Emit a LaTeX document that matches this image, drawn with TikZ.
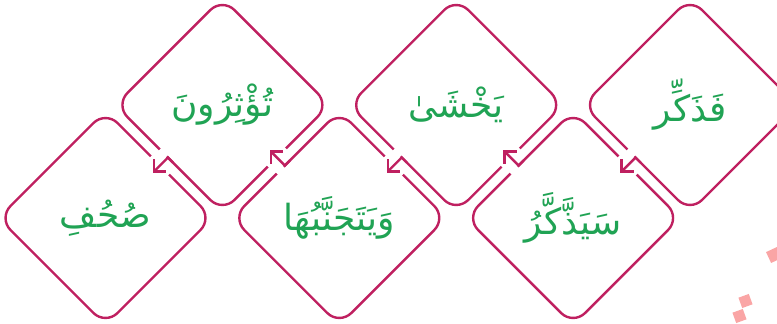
\documentclass[tikz,border=0pt]{standalone}
\usepackage{fontspec}
\usetikzlibrary{calc,shapes.geometric}
\TeXXeTstate=1
\newfontfamily\arabicfont[Script=Arabic]{DejaVu Sans}
\definecolor{frame}{RGB}{191,32,96}
\definecolor{word}{RGB}{32,163,84}
\definecolor{dotpink}{RGB}{250,165,165}
\tikzset{
  wordbox/.style={diamond, aspect=1, draw=frame, line width=2.4pt, minimum size=214pt,
    inner sep=0pt, outer sep=0pt, rounded corners=17pt, text=word,
    font=\arabicfont\fontsize{36}{40}\selectfont},
  gapw/.style={draw=white, line width=5.5pt, line cap=butt},
  link/.style={draw=frame, line width=2.4pt, line cap=butt, line join=miter},
}
\newcommand\linkSW[3]{%
  \coordinate (#3m) at ($(#1.center)!0.5!(#2.center)$);
  \coordinate (#3j) at ($(#1.west)!(#3m)!(#1.south)$);
  \coordinate (#3c) at ($(#2.north)!(#3j)!(#2.east)$);
  \coordinate (#3t) at ($(#3c)+(-6,6)$);
  \draw[gapw] ($(#3j)+(-8,-8)$) -- ($(#3j)+(-1.2,-1.2)$);
  \draw[gapw] ($(#3c)+(-9,-9)$) -- ($(#3c)+(9,9)$);
  \draw[link] ($(#3j)+(5,5)$) -- (#3j) -- (#3t);
  \draw[link] ($(#3t)+(0,-12)$) -- (#3t) -- ($(#3t)+(12,0)$);
}
\newcommand\linkNW[3]{%
  \coordinate (#3m) at ($(#1.center)!0.5!(#2.center)$);
  \coordinate (#3j) at ($(#1.west)!(#3m)!(#1.north)$);
  \coordinate (#3c) at ($(#2.east)!(#3j)!(#2.south)$);
  \coordinate (#3t) at ($(#3c)+(-6,-6)$);
  \draw[gapw] ($(#3j)+(-8,8)$) -- ($(#3j)+(-1.2,1.2)$);
  \draw[gapw] ($(#3c)+(-9,9)$) -- ($(#3c)+(9,-9)$);
  \draw[link] ($(#3j)+(5,-5)$) -- (#3j) -- (#3t);
  \draw[link] ($(#3t)+(12,0)$) -- (#3t) -- ($(#3t)+(0,12)$);
}
\begin{document}
\begin{tikzpicture}[x=1pt,y=-1pt]
\useasboundingbox (0,0) rectangle (777,324);
\clip (0,0) rectangle (777,324);
\node[wordbox] (d6) at (690,105) {\beginR فَذَكِّر\endR};
\node[wordbox] (d5) at (573.1,218) {\beginR سَيَذَّكَّرُ\endR};
\node[wordbox] (d4) at (456.2,105) {\beginR يَخْشَىٰ\endR};
\node[wordbox] (d3) at (339.3,218) {\beginR وَيَتَجَنَّبُهَا\endR};
\node[wordbox] (d2) at (222.4,105) {\beginR تُؤْثِرُونَ\endR};
\node[wordbox] (d1) at (105.5,218) {\beginR صُحُفِ\endR};
\linkSW{d6}{d5}{a}
\linkNW{d5}{d4}{b}
\linkSW{d4}{d3}{c}
\linkNW{d3}{d2}{e}
\linkSW{d2}{d1}{f}
\fill[dotpink, rotate around={25:(774,255)}] (768,249) rectangle (780,261);
\fill[dotpink, rotate around={20:(745.5,301)}] (740,295.5) rectangle (751,306.5);
\fill[dotpink, rotate around={20:(739.5,316)}] (734,310.5) rectangle (745,321.5);
\end{tikzpicture}
\end{document}
